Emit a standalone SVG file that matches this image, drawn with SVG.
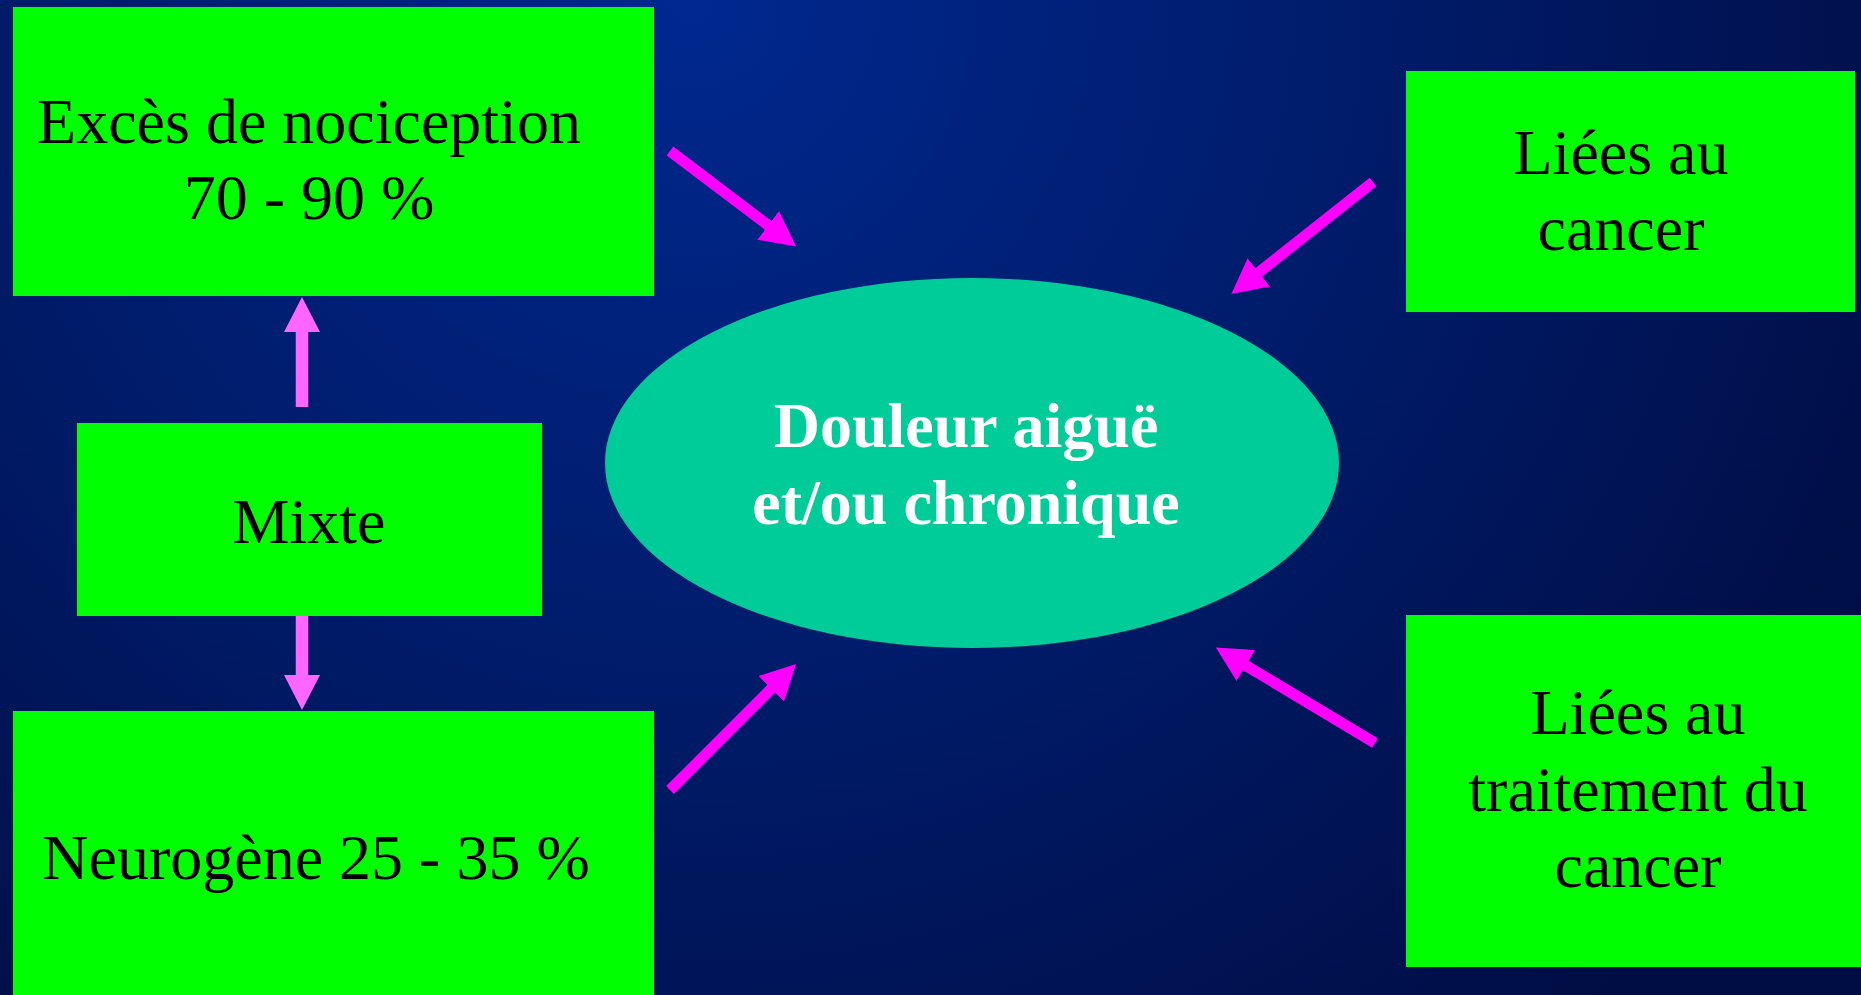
<svg xmlns="http://www.w3.org/2000/svg" width="1861" height="995" viewBox="0 0 1861 995">
<style>
.box{fill:#00ff00}
.t{font-family:"Liberation Serif","Times New Roman",serif;font-size:64px;fill:#000;text-anchor:middle}
.tb{font-family:"Liberation Serif","Times New Roman",serif;font-size:64px;font-weight:bold;fill:#fff;text-anchor:middle}
.dg{stroke:#ff00ff;stroke-width:11;fill:none;marker-end:url(#ah)}
.vt{stroke:#ff66ff;stroke-width:12.5;fill:none;marker-end:url(#ah2)}
</style>
<defs>
<radialGradient id="bg" gradientUnits="userSpaceOnUse" cx="690" cy="0" r="1350">
<stop offset="0" stop-color="#00288f"/>
<stop offset="0.55" stop-color="#001a66"/>
<stop offset="1" stop-color="#000d44"/>
</radialGradient>
<marker id="ah" markerUnits="userSpaceOnUse" markerWidth="36" markerHeight="40" viewBox="0 0 36 40" refX="1" refY="20" orient="auto">
<path d="M0,2 L35,20 L0,38 z" fill="#ff00ff"/>
</marker>
<marker id="ah2" markerUnits="userSpaceOnUse" markerWidth="36" markerHeight="40" viewBox="0 0 36 40" refX="1" refY="20" orient="auto">
<path d="M0,2 L35,20 L0,38 z" fill="#ff66ff"/>
</marker>
</defs>
<rect x="0" y="0" width="1861" height="995" fill="url(#bg)"/>

<g id="node-exces">
<rect class="box" x="13" y="7" width="641" height="289"/>
<text class="t" x="309" y="143">Excès de nociception</text>
<text class="t" x="309" y="219">70 - 90 %</text>
</g>
<g id="node-mixte">
<rect class="box" x="77" y="423" width="465" height="193"/>
<text class="t" x="309" y="543">Mixte</text>
</g>
<g id="node-neurogene">
<rect class="box" x="13" y="711" width="641" height="284"/>
<text class="t" x="316" y="879">Neurogène 25 - 35 %</text>
</g>
<g id="node-douleur">
<ellipse cx="972" cy="463" rx="367" ry="185" fill="#00cc99"/>
<text class="tb" x="966" y="447">Douleur aiguë</text>
<text class="tb" x="966" y="524">et/ou chronique</text>
</g>
<g id="node-cancer">
<rect class="box" x="1406" y="71" width="449" height="241"/>
<text class="t" x="1621" y="174">Liées au</text>
<text class="t" x="1621" y="250">cancer</text>
</g>
<g id="node-traitement">
<rect class="box" x="1406" y="615" width="455" height="352"/>
<text class="t" x="1638" y="734">Liées au</text>
<text class="t" x="1638" y="811">traitement du</text>
<text class="t" x="1638" y="887">cancer</text>
</g>

<g id="connectors">
<line class="vt" x1="302" y1="407" x2="302" y2="331"/>
<line class="vt" x1="302" y1="616" x2="302" y2="676"/>
<line class="dg" x1="670" y1="151" x2="769" y2="226"/>
<line class="dg" x1="670" y1="790" x2="772" y2="688"/>
<line class="dg" x1="1373" y1="182" x2="1258" y2="273"/>
<line class="dg" x1="1375" y1="743" x2="1245" y2="665"/>
</g>
</svg>
